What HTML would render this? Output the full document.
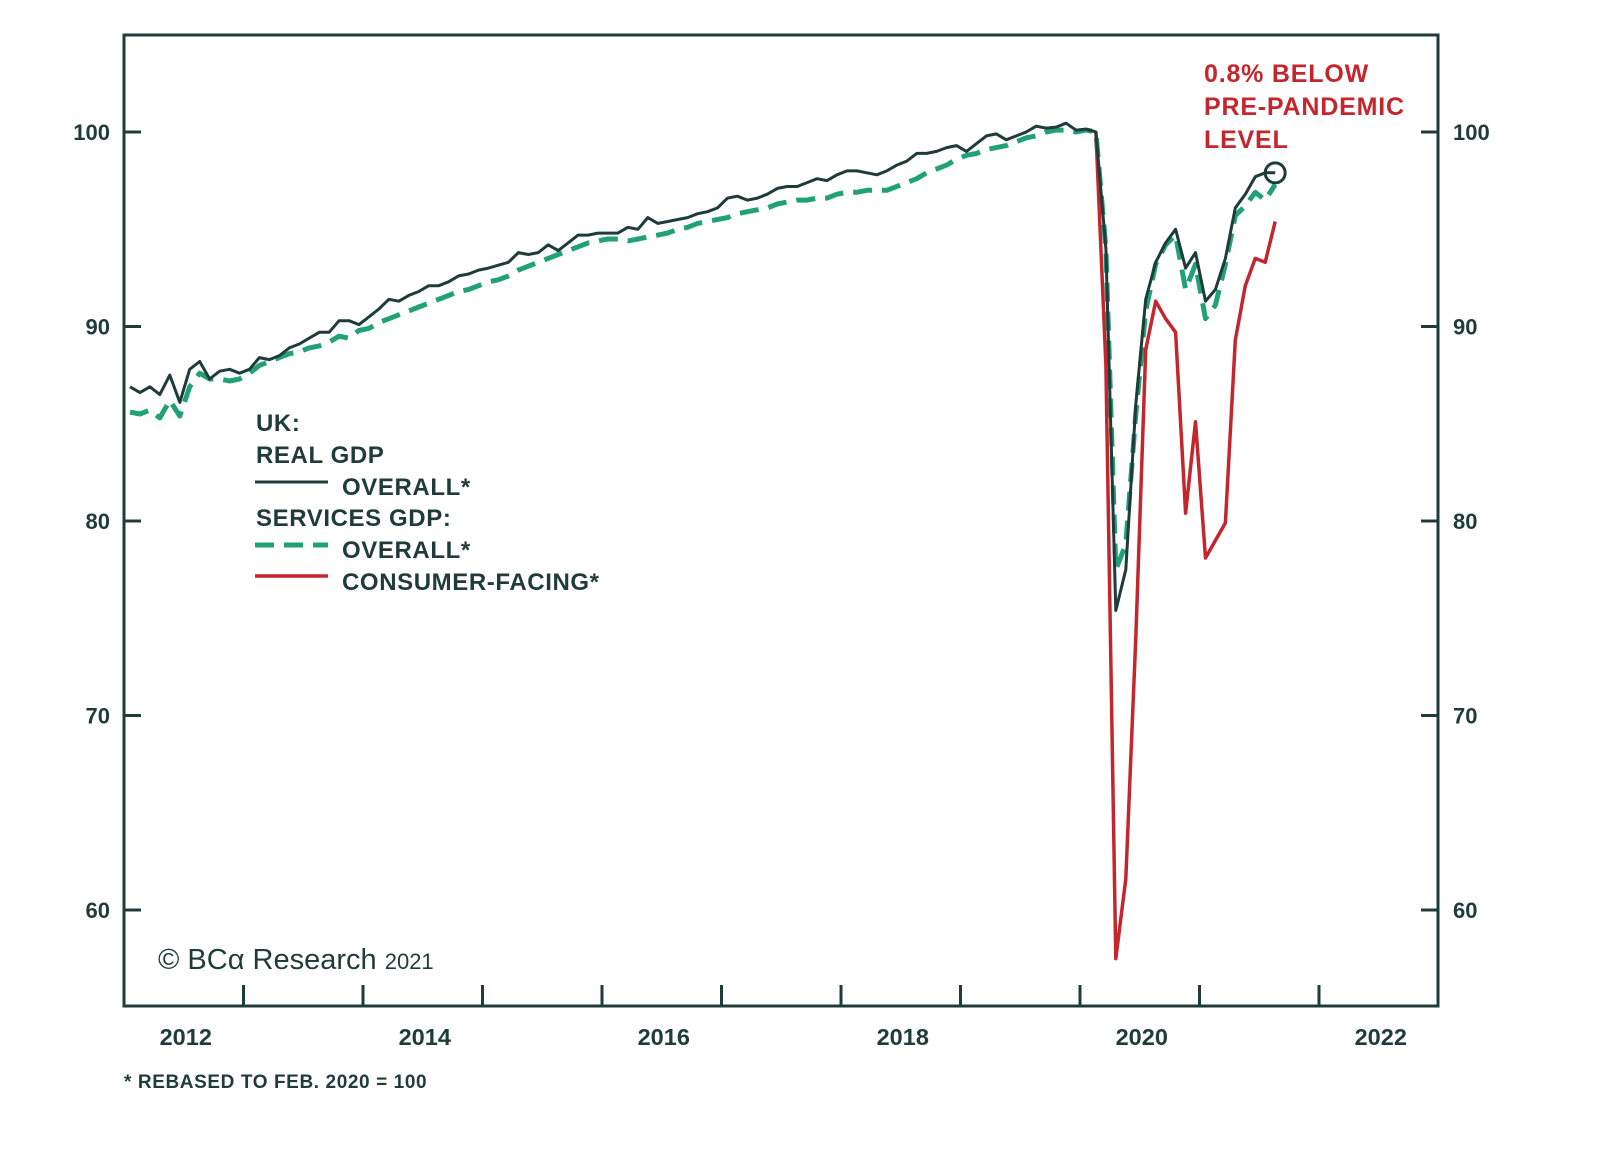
<!DOCTYPE html>
<html><head><meta charset="utf-8"><style>
html,body{margin:0;padding:0;background:#fff;}
svg{display:block;}
text{font-family:"Liberation Sans",sans-serif;}
</style></head><body>
<svg id="chart" width="1600" height="1156" viewBox="0 0 1600 1156" xmlns="http://www.w3.org/2000/svg">
<g id="axes"></g>
<g id="series"></g>
<g font-size="24" font-weight="bold" fill="#1f3b3a" letter-spacing="0.6">
<text x="256" y="431">UK:</text>
<text x="256" y="463">REAL GDP</text>
<line x1="255" y1="482" x2="328" y2="482" stroke="#1f3b3a" stroke-width="3"/>
<text x="342" y="495">OVERALL*</text>
<text x="256" y="526">SERVICES GDP:</text>
<line x1="255" y1="545" x2="328" y2="545" stroke="#21a276" stroke-width="5" stroke-dasharray="19,10"/>
<text x="342" y="558">OVERALL*</text>
<line x1="255" y1="576" x2="328" y2="576" stroke="#c4262e" stroke-width="3.5"/>
<text x="342" y="590">CONSUMER-FACING*</text>
</g>
<g font-size="25" font-weight="bold" fill="#c4262e" letter-spacing="0.8">
<text x="1204" y="82">0.8% BELOW</text>
<text x="1204" y="115">PRE-PANDEMIC</text>
<text x="1204" y="148">LEVEL</text>
</g>
<text x="158" y="969" font-family="'Liberation Serif',serif" font-size="29" fill="#1f3b3a">© BCα Research <tspan font-family="'Liberation Sans',sans-serif" font-size="22">2021</tspan></text>
<text x="124" y="1088" font-size="19" font-weight="bold" fill="#1f3b3a" letter-spacing="0.6">* REBASED TO FEB. 2020 = 100</text>
</svg>
<script>
const yTicks = [60, 70, 80, 90, 100];
const yearLabels = ["2012", "2014", "2016", "2018", "2020", "2022"];
const gdpOverall = [86.9,86.6,86.9,86.5,87.5,86.1,87.8,88.2,87.3,87.7,87.8,87.6,
87.8,88.4,88.3,88.5,88.9,89.1,89.4,89.7,89.7,90.3,90.3,90.1,
90.5,90.9,91.4,91.3,91.6,91.8,92.1,92.1,92.3,92.6,92.7,92.9,
93.0,93.15,93.3,93.8,93.7,93.8,94.2,93.9,94.3,94.7,94.7,94.8,
94.8,94.8,95.1,95.0,95.6,95.3,95.4,95.5,95.6,95.8,95.9,96.1,
96.6,96.7,96.5,96.6,96.8,97.1,97.2,97.2,97.4,97.6,97.5,97.8,
98.0,98.0,97.9,97.8,98.0,98.3,98.5,98.9,98.9,99.0,99.2,99.3,
99.0,99.4,99.8,99.9,99.6,99.8,100.0,100.3,100.2,100.25,100.45,100.1,
100.15,100.0,94.0,75.4,77.5,86.0,91.4,93.3,94.3,95.0,93.0,93.8,
91.3,91.9,93.5,96.1,96.8,97.7,97.9,97.9];
const servicesOverall = [85.6,85.5,85.7,85.3,86.2,85.4,86.9,87.6,87.3,87.3,87.2,87.3,
87.6,88.0,88.2,88.4,88.6,88.7,88.9,89.0,89.2,89.5,89.4,89.8,
89.9,90.2,90.4,90.6,90.8,91.0,91.2,91.4,91.6,91.8,91.9,92.1,
92.3,92.4,92.6,92.9,93.1,93.3,93.5,93.7,93.9,94.1,94.3,94.4,
94.5,94.5,94.4,94.5,94.6,94.7,94.8,95.0,95.1,95.3,95.4,95.5,
95.6,95.8,95.9,96.0,96.1,96.3,96.4,96.5,96.5,96.6,96.6,96.8,
96.9,96.9,97.0,97.0,97.0,97.2,97.4,97.6,97.9,98.1,98.3,98.6,
98.8,98.9,99.1,99.2,99.3,99.5,99.7,99.8,100.0,100.1,100.1,100.0,
100.1,100.0,94.0,77.5,78.8,85.5,90.8,93.2,94.2,94.7,91.9,93.2,
90.4,91.1,93.2,95.7,96.2,96.9,96.5,97.3];
const consumerStart = 97;
const consumerFacing = [100,88,57.5,61.6,74,88.8,91.3,90.4,89.7,80.4,85.1,78.1,79.0,79.9,89.3,92.1,93.5,93.3,95.4];

const NS = "http://www.w3.org/2000/svg";
const L = 124, R = 1438, T = 35, B = 1006;
const MONTH = 119.5 / 12;
function xScale(m){ return L + (m + 0.6) * MONTH; }
function yScale(v){ return 132 + (100 - v) * 19.45; }
function yearX(i){ return L + i * 119.5; }
function mk(tag, attrs, parent){
  const e = document.createElementNS(NS, tag);
  for (const k in attrs) e.setAttribute(k, attrs[k]);
  parent.appendChild(e);
  return e;
}
const axes = document.getElementById('axes');
const C = "#1f3b3a";
const frame = mk('rect', {x:L, y:T, width:R-L, height:B-T, fill:'none', stroke:C, 'stroke-width':3}, axes);


yTicks.forEach(v => {
  const y = yScale(v);
  const t1 = mk('line', {x1:L, x2:L+17, y1:y, y2:y, stroke:C, 'stroke-width':3}, axes);
  
  
  const t2 = mk('line', {x1:R-17, x2:R, y1:y, y2:y, stroke:C, 'stroke-width':3}, axes);
  
  
  const a = mk('text', {x:110, y:y+8, 'text-anchor':'end', 'font-size':22, 'font-weight':'bold', fill:C}, axes);
  a.textContent = v;
  
  
  const b = mk('text', {x:1453, y:y+8, 'font-size':22, 'font-weight':'bold', fill:C}, axes);
  b.textContent = v;
  
  
});
for (let i = 1; i <= 10; i++) {
  const x = yearX(i);
  const t = mk('line', {x1:x, x2:x, y1:B-21, y2:B, stroke:C, 'stroke-width':3}, axes);
  
  
}
yearLabels.forEach((lab, i) => {
  const x = yearX(i*2) + 119.5/2 + 2;
  const t = mk('text', {x:x, y:1045, 'text-anchor':'middle', 'font-size':23.5, 'font-weight':'bold', fill:C}, axes);
  t.textContent = lab;
  
  
});
const series = document.getElementById('series');
function pts(arr, start){ return arr.map((v,i)=>xScale(i+start).toFixed(1)+','+yScale(v).toFixed(1)).join(' '); }
const s1 = mk('polyline', {points:pts(servicesOverall,0), fill:'none', stroke:'#21a276', 'stroke-width':5, 'stroke-dasharray':'19,10', 'stroke-linejoin':'round'}, series);


const s3 = mk('polyline', {points:pts(consumerFacing,consumerStart), fill:'none', stroke:'#c4262e', 'stroke-width':3.5, 'stroke-linejoin':'round'}, series);


const s2 = mk('polyline', {points:pts(gdpOverall,0), fill:'none', stroke:C, 'stroke-width':3, 'stroke-linejoin':'round'}, series);


const last = gdpOverall.length - 1;
const circ = mk('circle', {cx:xScale(last), cy:yScale(gdpOverall[last]), r:10, fill:'none', stroke:C, 'stroke-width':3}, series);


</script>
</body></html>
